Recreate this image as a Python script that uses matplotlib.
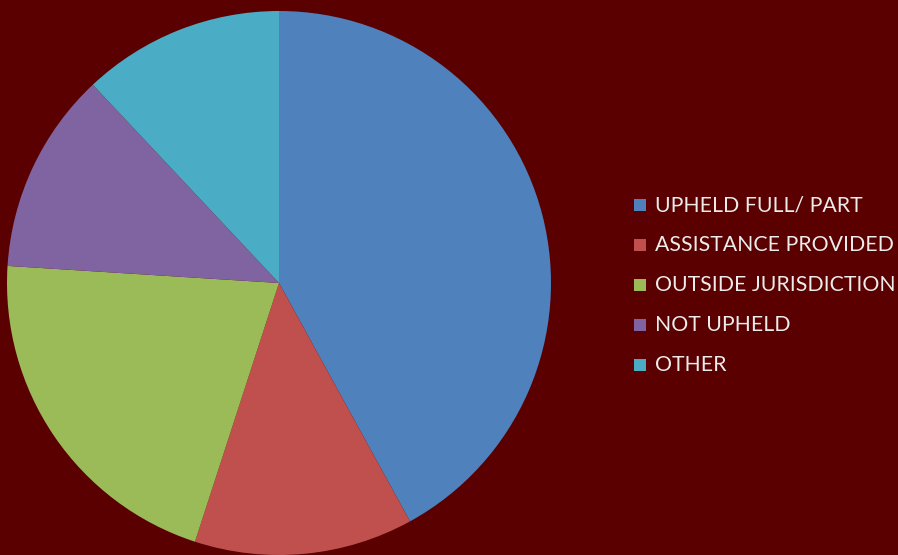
import matplotlib
matplotlib.use("Agg")
import matplotlib.pyplot as plt
from matplotlib.patches import Rectangle

categories = ["UPHELD FULL/ PART", "ASSISTANCE PROVIDED", "OUTSIDE JURISDICTION", "NOT UPHELD", "OTHER"]
values = [42, 13, 21, 12, 12]
colors = ["#4F81BD", "#C0504D", "#9BBB59", "#8064A2", "#4BACC6"]
bg = "#5a0000"

W, H = 898, 555
fig = plt.figure(figsize=(W / 100, H / 100), dpi=100, facecolor=bg)

cx, cy, r = 279, 283, 272
ax = fig.add_axes([(cx - r) / W, (H - cy - r) / H, 2 * r / W, 2 * r / H])
ax.set_facecolor(bg)
ax.pie(values, colors=colors, startangle=90, counterclock=False, radius=1,
       wedgeprops=dict(linewidth=0))
ax.set_xlim(-1, 1)
ax.set_ylim(-1, 1)
ax.set_aspect("equal")
ax.axis("off")

# legend
x0, y0, step, sq = 634, 205, 40, 12
for i, (lab, col) in enumerate(zip(categories, colors)):
    yc = y0 + i * step
    fig.patches.append(Rectangle((x0 / W, (H - yc - sq / 2) / H), sq / W, sq / H,
                                 transform=fig.transFigure, facecolor=col, edgecolor="none"))
    fig.text((x0 + 21) / W, (H - yc) / H, lab, color="#ececec", fontsize=15.3,
             family="Lato", va="center", ha="left")

fig.savefig("out.png", dpi=100, facecolor=bg)
